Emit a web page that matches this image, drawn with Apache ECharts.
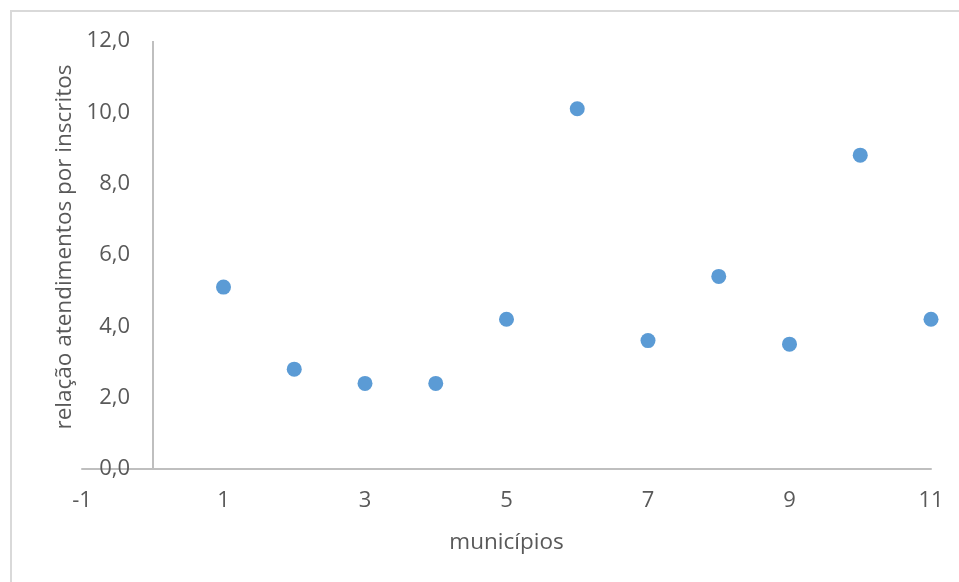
<!DOCTYPE html>
<html>
<head>
<meta charset="utf-8">
<script src="https://cdn.jsdelivr.net/npm/echarts@6/dist/echarts.min.js"></script>
<style>
  html, body { margin: 0; padding: 0; background: #ffffff; }
  #chart { width: 959px; height: 582px; }
</style>
</head>
<body>
<div id="chart"></div>
<script>
// Municipality index and ratio of attendances per enrolled person
const municipios = [1, 2, 3, 4, 5, 6, 7, 8, 9, 10, 11];
const relacao = [5.1, 2.8, 2.4, 2.4, 4.2, 10.1, 3.6, 5.4, 3.5, 8.8, 4.2];

const xTitle = 'municípios';
const yTitle = 'relação atendimentos por inscritos';

// the vertical axis crosses the horizontal one at x = 0
const yCrossAt = 0;

const textColor = '#595959';
const axisColor = '#BFBFBF';
const fontFamily = '"Open Sans", sans-serif';

const chart = echarts.init(document.getElementById('chart'), null, { renderer: 'canvas' });

chart.setOption({
  backgroundColor: '#ffffff',
  animation: false,
  textStyle: { fontFamily: fontFamily },
  graphic: [{
    type: 'rect',
    shape: { x: 11, y: 11, width: 960, height: 590 },
    style: { fill: 'none', stroke: '#D9D9D9', lineWidth: 2 },
    silent: true
  }],
  grid: { left: 82, right: 28, top: 41, bottom: 113, containLabel: false, outerBoundsMode: 'none' },
  xAxis: {
    type: 'value',
    min: -1,
    max: 11,
    interval: 2,
    splitLine: { show: false },
    axisTick: { show: false },
    axisLine: { show: true, onZero: false, lineStyle: { color: axisColor, width: 2 } },
    axisLabel: { color: textColor, fontSize: 22, margin: 21, fontFamily: fontFamily },
    name: xTitle,
    nameLocation: 'middle',
    nameGap: 62,
    nameTextStyle: { color: textColor, fontSize: 22.5, fontFamily: fontFamily }
  },
  yAxis: {
    type: 'value',
    min: 0,
    max: 12,
    interval: 2,
    splitLine: { show: false },
    axisTick: { show: false },
    axisLine: { show: false },
    axisLabel: {
      color: textColor, fontSize: 22, margin: -48, fontFamily: fontFamily,
      formatter: v => v.toFixed(1).replace('.', ',')
    },
    name: yTitle,
    nameLocation: 'middle',
    nameGap: 6,
    nameTextStyle: { color: textColor, fontSize: 22.5, fontFamily: fontFamily, padding: [0, 0, 0, 16] }
  },
  series: [{
    type: 'scatter',
    data: municipios.map((m, i) => [m, relacao[i]]),
    symbol: 'circle',
    symbolSize: 15,
    itemStyle: { color: '#5B9BD5', opacity: 1 },
    z: 3,
    markLine: {
      silent: true,
      symbol: 'none',
      label: { show: false },
      lineStyle: { color: axisColor, width: 2, type: 'solid' },
      emphasis: { disabled: true },
      data: [{ xAxis: yCrossAt }]
    }
  }]
});
</script>
</body>
</html>
